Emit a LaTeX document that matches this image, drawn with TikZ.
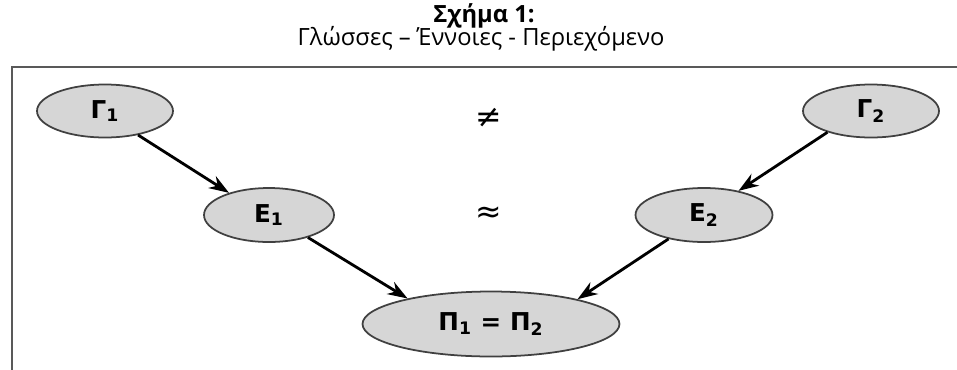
\documentclass[tikz,border=0pt]{standalone}
\usepackage{fontspec}
\setmainfont{Open Sans}
\newfontfamily\labelfont{DejaVu Sans}
\usetikzlibrary{arrows.meta, shapes.geometric}

\begin{document}
\begin{tikzpicture}[
  x=0.02cm, y=-0.02cm,
  every node/.style={font=\normalsize},
  langbox/.style={draw=black!75, ellipse, fill=black!16, line width=1pt, inner sep=0pt,
                  font=\labelfont\fontsize{14}{15}\selectfont\bfseries},
  titletext/.style={inner sep=0pt, font=\fontsize{13.5}{15}\selectfont},
  relsign/.style={font=\labelfont\fontsize{18}{20}\selectfont},
  arrow/.style={-{Stealth[length=4mm, width=2.8mm]}, line width=1.6pt},
]
\useasboundingbox (0,0) rectangle (957,369);

% ---- Title ----
\node[titletext, font=\fontsize{13.5}{15}\selectfont\bfseries] (title) at (484,16) {Σχήμα 1:};
\node[titletext] (subtitle) at (481,39) {Γλώσσες – Έννοιες - Περιεχόμενο};

% ---- Frame ----
\draw[black!65, line width=1.1pt] (12,390) -- (12,67) -- (980,67);

% ---- Languages, concepts, content ----
\node[langbox, minimum width=2.72cm, minimum height=1.06cm] (g1) at (105,111) {Γ\textsubscript{1}};
\node[langbox, minimum width=2.72cm, minimum height=1.06cm] (g2) at (871,111) {Γ\textsubscript{2}};
\node[langbox, minimum width=2.6cm, minimum height=1.08cm] (e1) at (269,215) {Ε\textsubscript{1}};
\node[langbox, minimum width=2.74cm, minimum height=1.08cm] (e2) at (704,215) {Ε\textsubscript{2}};
\node[langbox, minimum width=5.14cm, minimum height=1.3cm] (p) at (491,324) {Π\textsubscript{1}\hspace{5pt}=\hspace{5pt}Π\textsubscript{2}};

\node[relsign] (neq) at (489,118) {≠};
\node[relsign] (approx) at (489,215) {≈};

\draw[arrow] (g1.-36) -- (e1.151);
\draw[arrow] (g2.206) -- (e2.35);
\draw[arrow] (e1.-30) -- (p.163);
\draw[arrow] (e2.214) -- (p.16);

\end{tikzpicture}
\end{document}
